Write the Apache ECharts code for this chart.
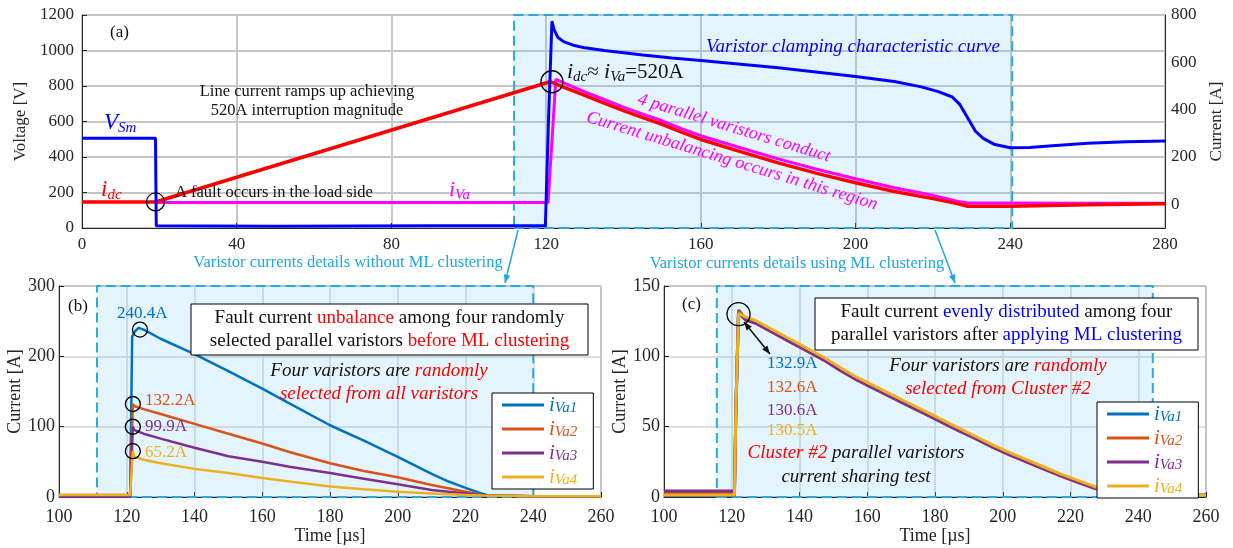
<!DOCTYPE html>
<html>
<head>
<meta charset="utf-8">
<script src="https://cdn.jsdelivr.net/npm/echarts@6/dist/echarts.min.js"></script>
<style>
  html, body { margin: 0; background: #fff; }
  #chart { width: 1233px; height: 548px; }
</style>
</head>
<body>
<div id="chart"></div>
<script>
// ---- panel (a): switch voltage and line / varistor currents
const aVsmT = [0, 19, 19.2, 50, 90, 119.8, 120.6, 121.5, 122, 123, 124.5, 127, 130, 135, 145, 152.5, 160, 180, 200, 210, 217, 221.4, 225, 227, 229, 231, 233, 236, 240, 245, 250, 260, 270, 280];
const aVsm = [505, 505, 12, 10, 12, 12, 600, 1165, 1120, 1075, 1050, 1030, 1015, 1000, 975, 958, 944, 903, 853, 825, 795, 768, 738, 695, 620, 545, 505, 470, 452, 453, 462, 478, 486, 490];
const aIdcT = [0, 19, 121, 125, 130, 135, 140, 145, 150, 155, 160, 170, 180, 190, 200, 210, 220, 226, 229, 240, 250, 260, 270, 280];
const aIdc = [10, 10, 518, 492, 460, 428, 396, 366, 338, 305, 274, 224, 175, 131, 91, 54, 24, 4, -8, -8, -5, -2, 0, 2];
const aIvaT = [19, 120.5, 122.5, 125, 130, 135, 140, 145, 150, 155, 160, 170, 180, 190, 200, 210, 220, 226, 229, 240, 260, 280];
const aIva = [8, 8, 528, 510, 475, 443, 411, 381, 353, 320, 290, 240, 192, 148, 108, 70, 38, 14, 6, 6, 5, 5];

// ---- panel (b): before ML clustering
const bT1 = [100, 121, 121.6, 122.5, 123.5, 125, 130, 140, 150, 160, 168, 180, 190, 200, 210, 215, 220, 224, 227, 240, 260];
const bI1 = [2, 2, 228, 236, 240.4, 238, 225, 203, 179, 154, 133, 102, 80, 57, 33, 22, 13, 6, 2, 1, 1];
const bT = [100, 121, 121.8, 122.3, 125, 130, 140, 150, 160, 168, 180, 190, 200, 210, 220, 225, 240, 260];
const bI2 = [3, 3, 132.2, 129, 125, 118, 104, 90, 76, 64, 48, 37, 28, 17, 7.5, 2.5, 1, 1];
const bI3 = [0, 0, 99.9, 95, 90, 83, 70, 58, 50, 43, 34, 26, 18, 10, 5, 2, 1, 1];
const bI4 = [3, 3, 65.2, 57, 53, 48, 40, 34, 27, 22, 15, 11, 7.5, 5, 3, 2, 1, 1];

// ---- panel (c): after ML clustering
const cT = [100, 120.8, 121.2, 122, 124, 127, 132, 137, 142, 147, 152, 157, 162, 167, 172, 177, 182, 187, 192, 197, 202, 207, 212, 217, 222, 227, 231, 234, 236, 245, 260];
const cI1 = [1, 1, 62, 132.9, 127, 124.5, 118, 111.5, 105, 98.5, 91, 84, 78, 72, 66, 60, 54, 48, 42, 36, 30.5, 25.5, 20.5, 15.5, 11, 6.5, 3.8, 2, 1, 1, 1];
const cI2 = [2.5, 2.5, 61, 132.6, 126.5, 124, 117.5, 111, 104.5, 98, 90.5, 83.5, 77.5, 71.5, 65.5, 59.5, 53.5, 47.5, 41.5, 35.5, 30, 25, 20, 15, 10.5, 6.2, 3.5, 1.8, 1.2, 1.2, 1.2];
const cI3 = [4.2, 4.2, 58, 130.6, 126, 123.5, 117, 110.5, 104, 97.5, 90, 83, 77, 71, 65, 59, 53, 47, 41.5, 35.5, 30, 25, 20, 15.3, 10.8, 6.5, 3.8, 2.2, 1.5, 1.5, 1.5];
const cI4 = [1.5, 1.5, 60, 130.5, 128, 125.5, 119, 112.5, 106, 99.5, 92, 85, 79, 73, 67, 61, 55, 49, 43, 37, 31.5, 26.5, 21.5, 16.5, 12, 7.5, 4.5, 2.5, 1.2, 1.2, 1.2];

const FONT = "'Liberation Serif', 'Times New Roman', serif";
const COLORS = ['#0072BD', '#D95319', '#7E2F8E', '#EDB120'];
const BOX_FILL = 'rgba(120, 200, 240, 0.2)';
const BOX_LINE = '#29a9e1';
const CYAN = '#1ea6e4';

const pairs = (ts, vs) => ts.map((t, i) => [t, vs[i]]);
const plain = (v) => String(v);

function xAxis(grid, min, max, interval, extra) {
  return Object.assign({
    type: 'value', gridIndex: grid, min, max, interval,
    axisLine: { onZero: false, lineStyle: { color: '#262626' } },
    axisTick: { inside: true, length: 5, lineStyle: { color: '#262626' } },
    axisLabel: { color: '#262626', fontFamily: FONT, fontSize: 18, margin: 11, formatter: plain },
    splitLine: { show: true, lineStyle: { color: '#d4d4d4', width: 1.5 } },
    nameTextStyle: { color: '#262626', fontFamily: FONT, fontSize: 18 },
  }, extra || {});
}

function yAxis(grid, min, max, interval, extra) {
  return Object.assign({
    type: 'value', gridIndex: grid, min, max, interval,
    axisLine: { show: true, onZero: false, lineStyle: { color: '#262626' } },
    axisTick: { show: true, inside: true, length: 5, lineStyle: { color: '#262626' } },
    axisLabel: { color: '#262626', fontFamily: FONT, fontSize: 18, margin: 4, formatter: plain },
    splitLine: { show: true, lineStyle: { color: '#d4d4d4', width: 1.5 } },
    nameLocation: 'middle',
    nameTextStyle: { color: '#262626', fontFamily: FONT, fontSize: 18 },
  }, extra || {});
}

function line(name, xi, yi, data, color, width, extra) {
  return Object.assign({
    name, type: 'line', xAxisIndex: xi, yAxisIndex: yi, data,
    symbol: 'none', animation: false,
    lineStyle: { color, width }, itemStyle: { color },
  }, extra || {});
}

function box(x1, y1, x2, y2) {
  return {
    silent: true,
    itemStyle: { color: BOX_FILL, borderColor: BOX_LINE, borderWidth: 2, borderType: [10, 5] },
    data: [[{ xAxis: x1, yAxis: y1 }, { xAxis: x2, yAxis: y2 }]],
  };
}

function circles(list) {
  return {
    silent: true,
    symbol: 'circle',
    label: { show: false },
    itemStyle: { color: 'rgba(0,0,0,0)', borderColor: '#000', borderWidth: 1.3 },
    data: list.map(([t, v, size]) => ({ coord: [t, v], symbolSize: size })),
  };
}

// text helpers for annotations
const R = (size, color, italic, pad) => ({ fontSize: size, fontFamily: FONT, fontStyle: italic ? 'italic' : 'normal', fill: color, padding: pad });

function txt(x, y, text, o) {
  o = o || {};
  return {
    type: 'text', x, y, rotation: o.rot || 0, z: 100,
    style: {
      text, fill: o.color || '#111', fontSize: o.size || 16, fontFamily: FONT,
      fontStyle: o.italic ? 'italic' : 'normal',
      align: o.align || 'center', verticalAlign: 'middle',
      rich: o.rich, lineHeight: o.lineHeight,
    },
  };
}

function arrowHead(x, y, fx, fy, color, size) {
  const a = Math.atan2(y - fy, x - fx);
  const s = size || 9;
  return {
    type: 'polygon', z: 100,
    shape: { points: [[x, y], [x - s * Math.cos(a - 0.38), y - s * Math.sin(a - 0.38)], [x - s * Math.cos(a + 0.38), y - s * Math.sin(a + 0.38)]] },
    style: { fill: color },
  };
}

function arrow(x1, y1, x2, y2, color, both) {
  const items = [
    { type: 'line', z: 100, shape: { x1, y1, x2, y2 }, style: { stroke: color, lineWidth: 1.5 } },
    arrowHead(x2, y2, x1, y1, color),
  ];
  if (both) items.push(arrowHead(x1, y1, x2, y2, color));
  return items;
}

const chart = echarts.init(document.getElementById('chart'), null, { renderer: 'canvas' });

const gridStyle = { show: true, backgroundColor: '#fff', borderColor: '#262626', borderWidth: 1, containLabel: false };

const legendBase = {
  orient: 'vertical',
  backgroundColor: '#fff', borderColor: '#000', borderWidth: 1,
  padding: [1, 16, 1, 10],
  itemWidth: 42, itemHeight: 3, itemGap: 2,
  icon: 'rect',
  formatter: (name) => `{i|i}{s|Va${name.slice(3)}}`,
  textStyle: {
    fontFamily: FONT,
    rich: {
      i: { fontSize: 21, fontFamily: FONT, fontStyle: 'italic', lineHeight: 16 },
      s: { fontSize: 15, fontFamily: FONT, fontStyle: 'italic', lineHeight: 10, padding: [7, 0, 0, 0] },
    },
  },
  data: ['iVa1', 'iVa2', 'iVa3', 'iVa4'].map((n, i) => ({ name: n, textStyle: { color: COLORS[i] } })),
};

const option = {
  animation: false,
  backgroundColor: '#fff',
  grid: [
    Object.assign({ left: 82, top: 15, width: 1086, height: 213 }, gridStyle),
    Object.assign({ left: 59, top: 286, width: 542, height: 211 }, gridStyle),
    Object.assign({ left: 664, top: 286, width: 542, height: 211 }, gridStyle),
  ],
  legend: [
    Object.assign({ left: 492, top: 393 }, legendBase),
    Object.assign({ left: 1097, top: 402 }, legendBase),
  ],
  xAxis: [
    xAxis(0, 0, 280, 40, {
      axisLabel: { color: '#262626', fontFamily: FONT, fontSize: 17, margin: 8, formatter: plain },
      splitLine: { show: true, lineStyle: { color: '#c6c6c6', width: 2 } },
    }),
    xAxis(1, 100, 260, 20, { name: 'Time [µs]', nameLocation: 'middle', nameGap: 29 }),
    xAxis(2, 100, 260, 20, { name: 'Time [µs]', nameLocation: 'middle', nameGap: 29 }),
  ],
  yAxis: [
    yAxis(0, 0, 1200, 200, {
      name: 'Voltage [V]', nameGap: 36,
      axisLabel: { color: '#262626', fontFamily: FONT, fontSize: 17, margin: 8, formatter: plain },
      nameTextStyle: { color: '#262626', fontFamily: FONT, fontSize: 17 },
      splitLine: { show: true, lineStyle: { color: '#c6c6c6', width: 2 } },
    }),
    yAxis(0, -100, 800, 100, {
      position: 'right', name: 'Current [A]', nameGap: 43,
      axisTick: { show: false },
      axisLabel: {
        color: '#262626', fontFamily: FONT, fontSize: 17, margin: 6,
        formatter: (v) => (v >= 0 && v % 200 === 0 ? String(v) : ''),
      },
      nameTextStyle: { color: '#262626', fontFamily: FONT, fontSize: 17 },
      splitLine: { show: false },
    }),
    yAxis(1, 0, 300, 100, { name: 'Current [A]', nameGap: 30 }),
    yAxis(2, 0, 150, 50, { name: 'Current [A]', nameGap: 22 }),
  ],
  series: [
    // (a)
    line('iVa', 0, 1, pairs(aIvaT, aIva), '#ff00ff', 3, { markArea: box(111.7, -100, 240.5, 800) }),
    line('idc', 0, 1, pairs(aIdcT, aIdc), '#ff0000', 3.5, { markPoint: circles([[19, 10, 18], [121.5, 518, 22]]) }),
    line('VSm', 0, 0, pairs(aVsmT, aVsm), '#0000ff', 3),
    // (b)
    line('iVa1', 1, 2, pairs(bT1, bI1), COLORS[0], 2.5, {
      markArea: box(111.2, 0, 240, 300),
      markPoint: circles([[123.9, 238, 15]]),
    }),
    line('iVa2', 1, 2, pairs(bT, bI2), COLORS[1], 2.5, { markPoint: circles([[121.8, 132.2, 15]]) }),
    line('iVa3', 1, 2, pairs(bT, bI3), COLORS[2], 2.5, { markPoint: circles([[121.8, 99.9, 15]]) }),
    line('iVa4', 1, 2, pairs(bT, bI4), COLORS[3], 2.5, { markPoint: circles([[121.8, 65.2, 15]]) }),
    // (c)
    line('iVa1', 2, 3, pairs(cT, cI1), COLORS[0], 3, { markArea: box(115.6, 0, 244.3, 150) }),
    line('iVa2', 2, 3, pairs(cT, cI2), COLORS[1], 3),
    line('iVa3', 2, 3, pairs(cT, cI3), COLORS[2], 3),
    line('iVa4', 2, 3, pairs(cT, cI4), COLORS[3], 3, { markPoint: circles([[122, 130, 23]]) }),
  ],
  graphic: [
    // panel (a) notes
    txt(110, 33, '(a)', { size: 17, align: 'left' }),
    txt(104, 123, '{v|V}{s|Sm}', { align: 'left', rich: { v: R(23, '#0000ff', true), s: R(15, '#0000ff', true, [10, 0, 0, 0]) } }),
    txt(101, 190, '{v|i}{s|dc}', { align: 'left', rich: { v: R(23, '#ff0000', true), s: R(15, '#ff0000', true, [10, 0, 0, 0]) } }),
    txt(175, 193, 'A fault occurs in the load side', { size: 16.5, align: 'left' }),
    txt(307, 92, 'Line current ramps up achieving', { size: 16.5 }),
    txt(307, 111, '520A interruption magnitude', { size: 16.5 }),
    txt(449, 190, '{v|i}{s|Va}', { align: 'left', rich: { v: R(22, '#ff00ff', true), s: R(15, '#ff00ff', true, [10, 0, 0, 0]) } }),
    txt(567, 72, '{i|i}{s|dc}{n|≈ }{i|i}{s|Va}{n|=520A}', {
      align: 'left',
      rich: { i: R(22, '#111', true), s: R(15, '#111', true, [10, 0, 0, 0]), n: R(21, '#111', false) },
    }),
    txt(853, 47, 'Varistor clamping characteristic curve', { size: 19, italic: true, color: '#0000ff' }),
    txt(734, 128, '4 parallel varistors conduct', { size: 18, italic: true, color: '#ff00ff', rot: -0.295 }),
    txt(732, 161, 'Current unbalancing occurs in this region', { size: 18, italic: true, color: '#ff00ff', rot: -0.295 }),

    // connectors to the detail panels
    txt(348, 263, 'Varistor currents details without ML clustering', { size: 16.5, color: CYAN }),
    txt(797, 264, 'Varistor currents details using ML clustering', { size: 16.5, color: CYAN }),
    ...arrow(518, 230, 505, 283, CYAN),
    ...arrow(935, 230, 955, 283, CYAN),

    // panel (b) notes
    txt(68, 307, '(b)', { size: 17, align: 'left' }),
    txt(117, 314, '240.4A', { size: 17, align: 'left', color: COLORS[0] }),
    txt(145, 401, '132.2A', { size: 17, align: 'left', color: COLORS[1] }),
    txt(145, 427, '99.9A', { size: 17, align: 'left', color: COLORS[2] }),
    txt(145, 453, '65.2A', { size: 17, align: 'left', color: COLORS[3] }),
    { type: 'rect', z: 99, shape: { x: 191, y: 304, width: 397, height: 51 }, style: { fill: '#fff', stroke: '#000', lineWidth: 1 } },
    txt(389.5, 330, '{n|Fault current }{r|unbalance}{n| among four randomly}\n{n|selected parallel varistors }{r|before ML clustering}', {
      lineHeight: 23,
      rich: { n: R(19, '#111', false), r: R(19, '#ff0000', false) },
    }),
    txt(379, 371, '{n|Four varistors are }{r|randomly}', { rich: { n: R(19, '#111', true), r: R(19, '#ff0000', true) } }),
    txt(379, 394, 'selected from all varistors', { size: 19, italic: true, color: '#ff0000' }),

    // panel (c) notes
    txt(682, 305, '(c)', { size: 17, align: 'left' }),
    { type: 'rect', z: 99, shape: { x: 815, y: 298, width: 383, height: 52 }, style: { fill: '#fff', stroke: '#000', lineWidth: 1 } },
    txt(1006.5, 324, '{n|Fault current }{b|evenly distributed}{n| among four}\n{n|parallel varistors after }{b|applying ML clustering}', {
      lineHeight: 23,
      rich: { n: R(19, '#111', false), b: R(19, '#0000ff', false) },
    }),
    txt(998, 366, '{n|Four varistors are }{r|randomly}', { rich: { n: R(19, '#111', true), r: R(19, '#ff0000', true) } }),
    txt(998, 389, 'selected from Cluster #2', { size: 19, italic: true, color: '#ff0000' }),
    txt(856, 453, '{r|Cluster #2}{n| parallel varistors}', { rich: { n: R(19, '#111', true), r: R(19, '#ff0000', true) } }),
    txt(856, 477, 'current sharing test', { size: 19, italic: true }),
    txt(767, 364, '132.9A', { size: 17, align: 'left', color: COLORS[0] }),
    txt(767, 388, '132.6A', { size: 17, align: 'left', color: COLORS[1] }),
    txt(767, 411, '130.6A', { size: 17, align: 'left', color: COLORS[2] }),
    txt(767, 431, '130.5A', { size: 17, align: 'left', color: COLORS[3] }),
    ...arrow(744, 322, 770, 354, '#111', true),
  ],
};

chart.setOption(option);
</script>
</body>
</html>
